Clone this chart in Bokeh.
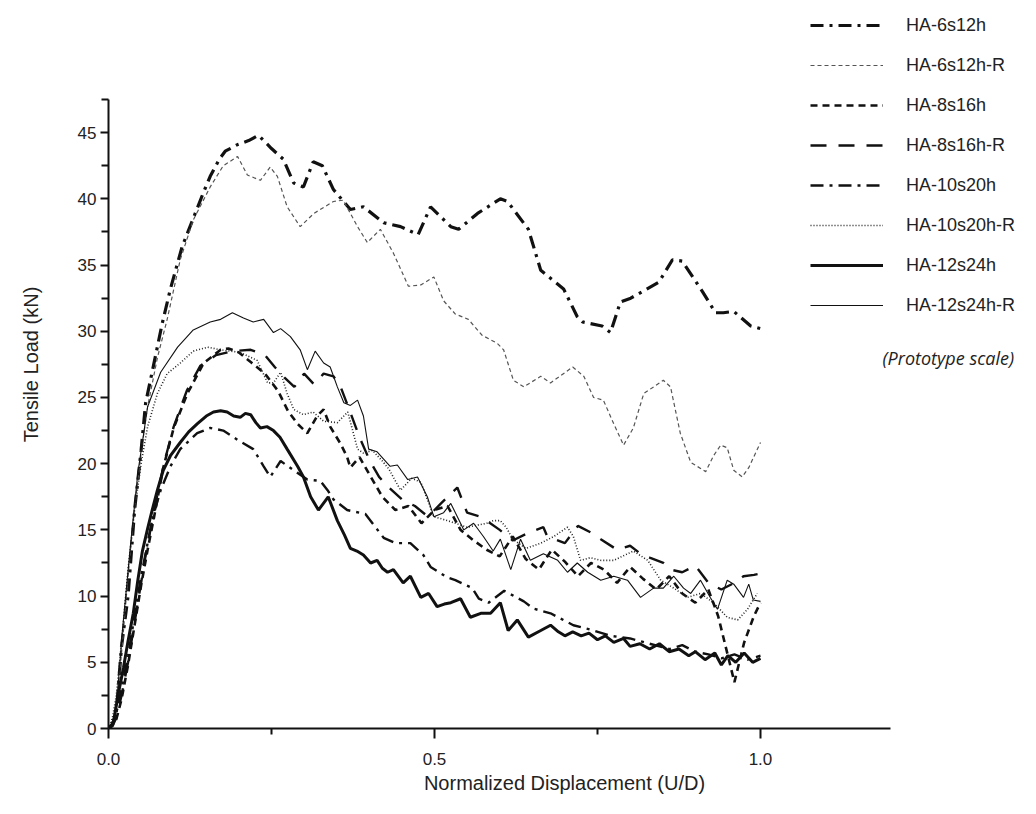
from bokeh.plotting import figure
from bokeh.models import Range1d, FixedTicker, NumeralTickFormatter, Legend, LegendItem, Label
from bokeh.embed import file_html
from bokeh.resources import INLINE

# ---------------- data ----------------
names = ["HA-6s12h", "HA-6s12h-R", "HA-8s16h", "HA-8s16h-R",
         "HA-10s20h", "HA-10s20h-R", "HA-12s24h", "HA-12s24h-R"]

x_6s12h = [0, 0.006, 0.012, 0.02, 0.03, 0.04, 0.05, 0.057, 0.069, 0.082, 0.095, 0.113, 0.129, 0.145,
           0.156, 0.17, 0.179, 0.198, 0.215, 0.23, 0.25, 0.268, 0.284, 0.299, 0.314, 0.328, 0.345,
           0.371, 0.391, 0.422, 0.448, 0.475, 0.494, 0.525, 0.537, 0.566, 0.601, 0.612, 0.644, 0.663,
           0.698, 0.719, 0.727, 0.757, 0.77, 0.785, 0.801, 0.844, 0.865, 0.88, 0.911, 0.931, 0.943,
           0.959, 0.985, 1.0]
y_6s12h = [0, 0.3, 1.2, 6.2, 10.0, 16.5, 21.0, 24.6, 27.4, 30.5, 33.2, 36.4, 38.4, 40.4,
           41.7, 43.0, 43.6, 44.1, 44.4, 44.8, 43.8, 43.0, 41.2, 40.9, 42.8, 42.5, 40.7,
           39.2, 39.4, 38.2, 37.9, 37.3, 39.4, 37.9, 37.7, 38.9, 40.0, 39.8, 37.7, 34.6,
           33.2, 31.1, 30.7, 30.4, 29.9, 32.2, 32.5, 33.7, 35.4, 35.3, 33.0, 31.4, 31.4,
           31.5, 30.4, 30.2]

x_6s12h_R = [0, 0.006, 0.012, 0.02, 0.03, 0.04, 0.05, 0.06, 0.075, 0.09, 0.11, 0.13, 0.156, 0.176,
             0.198, 0.213, 0.233, 0.248, 0.259, 0.274, 0.294, 0.315, 0.345, 0.36, 0.382, 0.397,
             0.417, 0.437, 0.46, 0.479, 0.499, 0.514, 0.532, 0.552, 0.573, 0.596, 0.606, 0.621,
             0.637, 0.663, 0.678, 0.712, 0.729, 0.744, 0.759, 0.775, 0.79, 0.805, 0.821, 0.851,
             0.862, 0.877, 0.893, 0.916, 0.928, 0.939, 0.949, 0.959, 0.972, 0.982, 1.0]
y_6s12h_R = [0, 0.5, 1.5, 5.7, 11.5, 16.7, 20.8, 24.3, 28.0, 30.9, 35.4, 38.4, 40.9, 42.5,
             43.2, 41.8, 41.4, 42.4, 41.7, 39.4, 37.9, 38.9, 39.8, 39.9, 37.9, 36.7,
             37.7, 35.9, 33.4, 33.5, 34.1, 32.3, 31.3, 30.9, 29.7, 29.1, 28.6, 26.3,
             25.8, 26.6, 26.1, 27.3, 26.6, 25.0, 24.8, 23.0, 21.4, 22.7, 25.3, 26.3,
             25.8, 22.3, 20.1, 19.4, 20.6, 21.4, 21.2, 19.5, 19.0, 19.7, 21.6]

x_8s16h = [0, 0.006, 0.012, 0.02, 0.03, 0.04, 0.05, 0.06, 0.07, 0.084, 0.1, 0.121, 0.146, 0.172,
           0.184, 0.2, 0.22, 0.24, 0.26, 0.275, 0.29, 0.305, 0.32, 0.33, 0.34, 0.356, 0.366, 0.371,
           0.385, 0.4, 0.42, 0.44, 0.46, 0.48, 0.5, 0.52, 0.54, 0.56, 0.58, 0.6, 0.62, 0.64, 0.66,
           0.68, 0.7, 0.72, 0.74, 0.76, 0.78, 0.8, 0.82, 0.84, 0.86, 0.88, 0.9, 0.92, 0.935, 0.95,
           0.96, 0.975, 0.99, 1.0]
y_8s16h = [0, 0.2, 0.7, 2.2, 4.8, 7.8, 10.8, 13.5, 16.0, 19.7, 22.7, 25.3, 27.6, 28.6,
           28.7, 28.4, 27.6, 26.8, 25.5, 24.0, 23.0, 22.3, 23.6, 24.1, 22.8, 21.5, 20.5, 19.7,
           20.5, 19.2, 17.5, 16.5, 16.8, 15.5, 16.5, 16.8, 15.0, 14.2, 13.5, 13.0, 14.5, 12.8, 12.0,
           13.5, 12.6, 11.5, 12.5, 12.0, 11.0, 12.2, 11.3, 10.5, 11.5, 10.2, 9.5, 10.5, 8.5, 5.5,
           3.5, 6.5, 8.5, 9.5]

x_8s16h_R = [0, 0.006, 0.012, 0.02, 0.03, 0.04, 0.05, 0.06, 0.07, 0.085, 0.1, 0.12, 0.141, 0.165,
             0.19, 0.218, 0.24, 0.255, 0.27, 0.285, 0.3, 0.315, 0.33, 0.345, 0.356, 0.37, 0.385,
             0.4, 0.415, 0.43, 0.45, 0.47, 0.49, 0.51, 0.535, 0.55, 0.57, 0.58, 0.6, 0.62, 0.645,
             0.667, 0.673, 0.7, 0.72, 0.74, 0.755, 0.78, 0.8, 0.816, 0.83, 0.851, 0.862, 0.88,
             0.9, 0.92, 0.94, 0.96, 0.974, 0.99, 1.0]
y_8s16h_R = [0, 0.2, 0.8, 2.5, 5.0, 8.0, 11.0, 14.0, 16.5, 20.0, 22.8, 25.5, 27.4, 28.2,
             28.5, 28.6, 28.2, 27.3, 26.5, 25.8, 26.8, 26.0, 26.8, 26.6, 25.8, 24.0, 22.0,
             20.3, 19.0, 18.2, 17.3, 16.8, 16.0, 17.0, 18.2, 16.3, 16.0, 15.7, 15.0, 14.2, 14.8,
             15.2, 14.5, 14.0, 15.3, 14.8, 14.3, 13.5, 13.8, 13.2, 12.9, 12.5, 12.0, 11.8,
             12.3, 11.0, 10.5, 11.0, 11.5, 11.6, 11.7]

x_10s20h = [0, 0.006, 0.012, 0.02, 0.03, 0.04, 0.05, 0.06, 0.07, 0.08, 0.095, 0.11, 0.136, 0.156,
            0.176, 0.198, 0.222, 0.238, 0.248, 0.264, 0.284, 0.305, 0.325, 0.336, 0.345, 0.366,
            0.394, 0.422, 0.44, 0.463, 0.483, 0.494, 0.52, 0.532, 0.558, 0.568, 0.583, 0.607,
            0.637, 0.652, 0.678, 0.713, 0.744, 0.77, 0.8, 0.83, 0.86, 0.88, 0.9, 0.92, 0.94,
            0.96, 0.98, 1.0]
y_10s20h = [0, 0.3, 1.2, 3.0, 5.5, 8.5, 11.5, 14.0, 16.3, 18.0, 19.8, 21.1, 22.3, 22.7,
            22.5, 21.8, 21.1, 19.8, 19.0, 20.2, 19.5, 18.8, 18.7, 18.0, 17.3, 16.5,
            16.2, 14.4, 14.0, 14.0, 13.1, 12.2, 11.4, 11.2, 10.6, 9.8, 9.5, 10.4,
            9.6, 9.05, 8.7, 7.8, 7.4, 7.0, 6.8, 6.4, 6.0, 6.3, 5.8, 5.6, 5.3,
            5.6, 5.2, 5.5]

x_10s20h_R = [0, 0.006, 0.012, 0.02, 0.03, 0.04, 0.05, 0.06, 0.075, 0.09, 0.11, 0.13, 0.152, 0.172,
              0.202, 0.228, 0.244, 0.253, 0.264, 0.274, 0.284, 0.299, 0.314, 0.33, 0.351, 0.367,
              0.382, 0.391, 0.405, 0.42, 0.43, 0.44, 0.448, 0.465, 0.479, 0.499, 0.52, 0.55, 0.58,
              0.59, 0.601, 0.61, 0.62, 0.64, 0.663, 0.683, 0.704, 0.713, 0.724, 0.739, 0.755,
              0.775, 0.805, 0.827, 0.847, 0.867, 0.888, 0.908, 0.928, 0.949, 0.965, 0.98, 0.995]
y_10s20h_R = [0, 0.8, 2.5, 6.5, 12.0, 16.5, 20.0, 22.8, 25.3, 26.8, 27.6, 28.5, 28.8, 28.6,
              28.4, 27.8, 26.1, 26.1, 26.9, 25.3, 24.1, 23.7, 23.9, 23.2, 23.1, 23.9,
              21.1, 20.8, 21.0, 20.2, 19.6, 18.7, 18.0, 18.9, 18.6, 16.0, 15.7, 15.2, 15.5,
              15.7, 15.7, 15.2, 14.3, 13.6, 14.0, 14.5, 15.2, 14.5, 12.7, 12.9, 12.7,
              12.7, 13.4, 12.7, 11.2, 10.6, 9.9, 10.2, 9.5, 8.4, 8.2, 9.0, 10.2]

x_12s24h = [0, 0.004, 0.008, 0.015, 0.023, 0.03, 0.038, 0.045, 0.052, 0.06, 0.067, 0.075, 0.084,
            0.095, 0.11, 0.123, 0.136, 0.15, 0.161, 0.172, 0.182, 0.192, 0.202, 0.21, 0.218, 0.226,
            0.233, 0.243, 0.253, 0.263, 0.274, 0.29, 0.299, 0.31, 0.322, 0.337, 0.351, 0.362,
            0.371, 0.381, 0.391, 0.402, 0.412, 0.42, 0.428, 0.437, 0.452, 0.463, 0.479, 0.491,
            0.504, 0.515, 0.525, 0.54, 0.555, 0.571, 0.586, 0.601, 0.613, 0.627, 0.644, 0.663,
            0.678, 0.69, 0.7, 0.712, 0.725, 0.737, 0.75, 0.762, 0.775, 0.79, 0.8, 0.815, 0.83,
            0.845, 0.86, 0.875, 0.89, 0.9, 0.915, 0.93, 0.94, 0.95, 0.962, 0.975, 0.988, 1.0]
y_12s24h = [0, 0.2, 0.6, 2.6, 4.6, 6.6, 8.7, 11.2, 13.4, 15.1, 16.5, 18.0, 19.5,
            20.6, 21.6, 22.4, 23.0, 23.6, 23.9, 24.0, 23.9, 23.6, 23.5, 23.8, 23.7, 23.1,
            22.7, 22.8, 22.5, 22.0, 21.1, 19.8, 19.0, 17.5, 16.5, 17.5, 15.7, 14.6,
            13.6, 13.4, 13.1, 12.5, 12.7, 12.1, 11.8, 12.0, 11.0, 11.5, 9.9, 10.2,
            9.2, 9.4, 9.5, 9.8, 8.4, 8.7, 8.7, 9.5, 7.4, 8.2, 6.9, 7.4,
            7.8, 7.3, 7.0, 7.3, 7.0, 7.2, 6.7, 7.0, 6.5, 6.8, 6.2, 6.4, 6.0,
            6.4, 5.8, 6.0, 5.5, 5.8, 5.2, 5.7, 4.8, 5.5, 5.0, 5.7, 5.0, 5.3]

x_12s24h_R = [0, 0.006, 0.012, 0.021, 0.034, 0.045, 0.06, 0.08, 0.106, 0.13, 0.156, 0.172, 0.19,
              0.207, 0.222, 0.238, 0.253, 0.264, 0.279, 0.294, 0.305, 0.317, 0.33, 0.34, 0.351,
              0.361, 0.371, 0.382, 0.391, 0.399, 0.412, 0.432, 0.443, 0.459, 0.474, 0.489, 0.499,
              0.514, 0.525, 0.545, 0.56, 0.575, 0.59, 0.601, 0.617, 0.632, 0.647, 0.667, 0.689,
              0.704, 0.719, 0.735, 0.755, 0.775, 0.796, 0.816, 0.836, 0.851, 0.867, 0.882, 0.893,
              0.908, 0.923, 0.934, 0.949, 0.959, 0.974, 0.982, 0.989, 1.0]
y_12s24h_R = [0, 0.4, 1.5, 7.2, 14.0, 19.3, 24.3, 26.9, 28.8, 30.1, 30.7, 30.9, 31.4,
              31.0, 30.7, 30.9, 29.9, 30.2, 29.6, 28.6, 27.1, 28.5, 27.6, 27.3, 25.8,
              24.6, 24.4, 24.8, 23.6, 21.1, 20.9, 19.8, 19.9, 18.8, 19.0, 17.5, 16.0,
              16.3, 17.0, 15.0, 15.5, 14.5, 13.4, 14.3, 12.0, 14.3, 12.7, 13.2, 12.7,
              11.8, 12.5, 11.8, 11.2, 11.5, 11.2, 9.9, 10.6, 10.6, 11.5, 10.6, 10.2,
              11.2, 9.9, 9.0, 11.2, 10.9, 9.9, 10.9, 9.7, 9.6]

x_ticks = [0.0, 0.5, 1.0]
x_minor = [0.25, 0.75]
y_ticks = [0, 5, 10, 15, 20, 25, 30, 35, 40, 45]
y_minor = [2.5, 7.5, 12.5, 17.5, 22.5, 27.5, 32.5, 37.5, 42.5, 47.5]
x_axis_extent = (0, 1.2)
y_axis_extent = (0, 47.5)

# ---------------- styles ----------------
styles = {
    "HA-6s12h":    dict(line_color="#111111", line_width=3.2, line_dash="13 6 3 6"),
    "HA-6s12h-R":  dict(line_color="#555555", line_width=1.2, line_dash="4 3"),
    "HA-8s16h":    dict(line_color="#111111", line_width=2.6, line_dash="7 5"),
    "HA-8s16h-R":  dict(line_color="#111111", line_width=2.4, line_dash="16 12"),
    "HA-10s20h":   dict(line_color="#111111", line_width=2.4, line_dash="13 6 3 6"),
    "HA-10s20h-R": dict(line_color="#222222", line_width=1.6, line_dash="1 2"),
    "HA-12s24h":   dict(line_color="#111111", line_width=3.0, line_dash="solid"),
    "HA-12s24h-R": dict(line_color="#111111", line_width=1.1, line_dash="solid"),
}
xs = [x_6s12h, x_6s12h_R, x_8s16h, x_8s16h_R, x_10s20h, x_10s20h_R, x_12s24h, x_12s24h_R]
ys = [y_6s12h, y_6s12h_R, y_8s16h, y_8s16h_R, y_10s20h, y_10s20h_R, y_12s24h, y_12s24h_R]

FONT = "Liberation Sans"

# frame spans the whole right/top area so the legend (drawn inside it) is not clipped;
# the axis lines are limited to their true extent with `bounds`.
p = figure(width=1020, height=798, output_backend="svg", toolbar_location=None,
           x_range=Range1d(0, 1.3988), y_range=Range1d(0, 54.98),
           min_border_left=108, min_border_right=0, min_border_top=0, min_border_bottom=70,
           background_fill_color="white", border_fill_color="white")
p.grid.visible = False
p.outline_line_color = None

items = []
for name, xv, yv in zip(names, xs, ys):
    r = p.line(xv, yv, **styles[name])
    items.append(LegendItem(label=name, renderers=[r]))

# axes
for ax in (p.xaxis[0], p.yaxis[0]):
    ax.axis_line_width = 2
    ax.axis_line_color = "#111111"
    ax.major_tick_line_width = 2
    ax.minor_tick_line_width = 2
    ax.major_tick_line_color = "#111111"
    ax.minor_tick_line_color = "#111111"
    ax.major_tick_in = 0
    ax.minor_tick_in = 0
    ax.major_label_text_font = FONT
    ax.major_label_text_font_size = "17px"
    ax.major_label_text_color = "#222222"
    ax.axis_label_text_font = FONT
    ax.axis_label_text_font_size = "20px"
    ax.axis_label_text_font_style = "normal"
    ax.axis_label_text_color = "#222222"

p.xaxis.bounds = x_axis_extent
p.xaxis.ticker = FixedTicker(ticks=x_ticks, minor_ticks=x_minor)
p.xaxis.formatter = NumeralTickFormatter(format="0.0")
p.xaxis.major_tick_out = 10
p.xaxis.minor_tick_out = 6
p.xaxis.major_label_standoff = 14
p.xaxis.axis_label = "Normalized Displacement (U/D)"
p.xaxis.axis_label_standoff = 4

p.yaxis.bounds = y_axis_extent
p.yaxis.ticker = FixedTicker(ticks=y_ticks, minor_ticks=y_minor)
p.yaxis.major_tick_out = 8
p.yaxis.minor_tick_out = 7
p.yaxis.major_label_standoff = 4
p.yaxis.axis_label = "Tensile Load (kN)"
p.yaxis.axis_label_standoff = 33

legend = Legend(items=items, location=(702, 411), orientation="vertical",
                glyph_width=73, glyph_height=24, label_height=24, spacing=16,
                label_standoff=23, padding=0, margin=0,
                border_line_alpha=0, background_fill_alpha=0,
                label_text_font=FONT, label_text_font_size="18px",
                label_text_color="#222222")
p.add_layout(legend)

note = Label(x=774, y=371, x_units="screen", y_units="screen",
             text="(Prototype scale)", text_font="Open Sans",
             text_font_style="italic", text_font_size="18px",
             text_color="#222222", text_baseline="middle", text_align="left")
p.add_layout(note)

open("out.html", "w").write(file_html(p, INLINE))
